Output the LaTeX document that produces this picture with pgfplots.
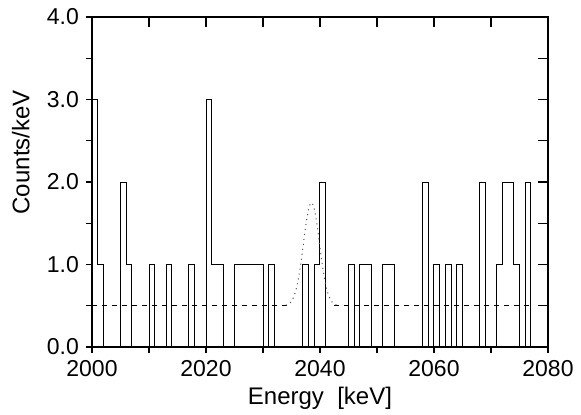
\documentclass[border=0pt]{standalone}
\usepackage{fontspec}
\setmainfont{Liberation Sans}
\usepackage{pgfplots}
\pgfplotsset{compat=1.18}

% counts per 1 keV bin, left bin edge
\pgfplotstableread{
E c
2000 3
2001 1
2002 0
2005 2
2006 1
2007 0
2010 1
2011 0
2013 1
2014 0
2017 1
2018 0
2020 3
2021 1
2023 0
2025 1
2030 0
2031 1
2032 0
2037 1
2038 0
2039 1
2040 2
2041 0
2045 1
2046 0
2047 1
2049 0
2051 1
2053 0
2058 2
2059 0
2060 1
2061 0
2062 1
2063 0
2064 1
2065 0
2068 2
2069 0
2071 1
2072 2
2074 1
2075 0
2076 2
2077 0
2080 0
}\hist

\pgfplotsset{
  base/.style={
    scale only axis, width=228pt, height=165pt,
    xmin=2000, xmax=2080, ymin=0, ymax=4,
    axis line style={line width=1.1pt},
    every tick/.style={black, line width=0.6pt},
    tick label style={font=\fontsize{11.5}{13}\selectfont},
    /pgf/number format/assume math mode=true,
  }
}

\begin{document}
\begin{tikzpicture}
\useasboundingbox (-46pt,-33.5pt) rectangle (244.5pt,173.5pt);
\begin{axis}[base,
    xtick={2000,2020,...,2080}, minor xtick={2010,2030,2050,2070},
    ytick={0,1,2,3,4}, minor ytick={0.5,1.5,2.5,3.5},
    xtick pos=left, ytick pos=left, tick align=outside,
    major tick length=3pt, minor tick length=3pt,
    xticklabel style={/pgf/number format/1000 sep={}},
    yticklabel style={/pgf/number format/.cd, fixed, fixed zerofill, precision=1},
    xlabel={Energy\ \ [keV]},
    ylabel={Counts/keV},
    label style={font=\fontsize{12}{14}\selectfont},
    xlabel style={at={(axis description cs:0.5,-0.155)}, anchor=center},
    ylabel style={at={(axis description cs:-0.156,0.59)}, anchor=center},
]
\addplot[const plot mark left, black, line width=0.5pt] table[x=E, y=c] {\hist};
\addplot[black, line width=0.45pt, dash pattern=on 2.5pt off 2.5pt] coordinates {(2000,0.5) (2034.5,0.5)};
\addplot[black, line width=0.45pt, dash pattern=on 2.5pt off 2.5pt] coordinates {(2042.5,0.5) (2077,0.5)};
\addplot[black!70, line width=0.5pt, dotted, smooth] coordinates {
(2034,0.507) (2034.5,0.521) (2035,0.555) (2035.5,0.626) (2036,0.754)
(2036.5,0.950) (2037,1.204) (2037.5,1.469) (2038,1.673) (2038.5,1.750)
(2039,1.673) (2039.5,1.469) (2040,1.204) (2040.5,0.950) (2041,0.754)
(2041.5,0.626) (2042,0.555) (2042.5,0.521) (2043,0.507)};
\end{axis}
\begin{axis}[base,
    xtick={2010,2020,...,2070}, ytick={0.5,1,...,3.5},
    xtick pos=right, ytick pos=right, tick align=inside,
    major tick length=5pt,
    xticklabels={}, yticklabels={},
]
\end{axis}
\end{tikzpicture}
\end{document}
